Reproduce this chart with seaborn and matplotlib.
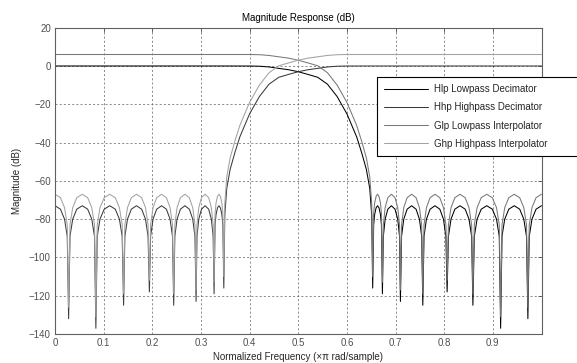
import numpy as np
import pandas as pd
import matplotlib
matplotlib.use("Agg")
import matplotlib.pyplot as plt
import seaborn as sns

# ---------------- data ----------------
freq_lp = [0.0, 0.30, 0.38, 0.40, 0.42, 0.44, 0.46, 0.48, 0.50, 0.52, 0.54, 0.56, 0.58, 0.60,
           0.62, 0.63, 0.64, 0.647, 0.651, 0.653,
           0.655, 0.657, 0.660, 0.663, 0.666, 0.669, 0.671, 0.673,
           0.6749, 0.6786, 0.6841, 0.6915, 0.6989, 0.7045, 0.7082, 0.710,
           0.7123, 0.7169, 0.7238, 0.733, 0.7422, 0.7491, 0.7537, 0.756,
           0.7585, 0.7635, 0.771, 0.781, 0.791, 0.7985, 0.8035, 0.806,
           0.8087, 0.814, 0.8219, 0.8325, 0.8431, 0.851, 0.8564, 0.859,
           0.8619, 0.8676, 0.8761, 0.8875, 0.8989, 0.9075, 0.9132, 0.916,
           0.9188, 0.9244, 0.9328, 0.944, 0.9552, 0.9636, 0.9692, 0.972,
           0.9748, 0.9804, 0.9888, 1.0]

hlp_db = [0.0, 0.0, -0.01, -0.02, -0.12, -0.5, -1.25, -1.95, -3.0, -4.4, -5.9, -9.5, -16.0, -25.0,
          -37.0, -45.0, -54.0, -64.0, -78.0, -116.0,
          -83, -77.6, -74.1, -73, -74.1, -77.6, -83, -119,
          -89, -80, -74.8, -73, -74.8, -80, -89, -123,
          -89, -80, -74.8, -73, -74.8, -80, -89, -125,
          -89, -80, -74.8, -73, -74.8, -80, -89, -118,
          -89, -80, -74.8, -73, -74.8, -80, -89, -125,
          -89, -80, -74.8, -73, -74.8, -80, -89, -137,
          -89, -80, -74.8, -73, -74.8, -80, -89, -132,
          -89, -80, -74.8, -73]

glp_db = [6.0, 6.0, 6.0, 6.0, 5.9, 5.5, 4.8, 4.1, 3.0, 1.6, 0.1, -3.5, -10.0, -19.0,
          -31.0, -39.0, -48.0, -58.0, -72.0, -110.0,
          -77, -71.6, -68.1, -67, -68.1, -71.6, -77, -113,
          -83, -74, -68.8, -67, -68.8, -74, -83, -117,
          -83, -74, -68.8, -67, -68.8, -74, -83, -119,
          -83, -74, -68.8, -67, -68.8, -74, -83, -112,
          -83, -74, -68.8, -67, -68.8, -74, -83, -119,
          -83, -74, -68.8, -67, -68.8, -74, -83, -131,
          -83, -74, -68.8, -67, -68.8, -74, -83, -126,
          -83, -74, -68.8, -67]

freq_hp = [0.0, 0.0112, 0.0196, 0.0252, 0.028,
           0.0308, 0.0364, 0.0448, 0.056, 0.0672, 0.0756, 0.0812, 0.084,
           0.0868, 0.0925, 0.1011, 0.1125, 0.1239, 0.1324, 0.1381, 0.141,
           0.1436, 0.149, 0.1569, 0.1675, 0.1781, 0.186, 0.1913, 0.194,
           0.1965, 0.2015, 0.209, 0.219, 0.229, 0.2365, 0.2415, 0.244,
           0.2463, 0.2509, 0.2578, 0.267, 0.2762, 0.2831, 0.2877, 0.290,
           0.2918, 0.2955, 0.3011, 0.3085, 0.3159, 0.3214, 0.3251, 0.327,
           0.329, 0.331, 0.334, 0.337, 0.340, 0.343, 0.345, 0.347,
           0.349, 0.353, 0.36, 0.37, 0.38, 0.40, 0.42, 0.44, 0.46, 0.48, 0.50,
           0.52, 0.54, 0.56, 0.58, 0.60, 0.62, 0.70, 1.0]

hhp_db = [-73, -74.8, -80, -89, -132,
          -89, -80, -74.8, -73, -74.8, -80, -89, -137,
          -89, -80, -74.8, -73, -74.8, -80, -89, -125,
          -89, -80, -74.8, -73, -74.8, -80, -89, -118,
          -89, -80, -74.8, -73, -74.8, -80, -89, -125,
          -89, -80, -74.8, -73, -74.8, -80, -89, -123,
          -89, -80, -74.8, -73, -74.8, -80, -89, -119,
          -83, -77.6, -74.1, -73, -74.1, -77.6, -83, -116,
          -78.0, -64.0, -54.0, -45.0, -37.0, -25.0, -16.0, -9.5, -5.9, -4.4, -3.0,
          -1.95, -1.25, -0.5, -0.12, -0.02, -0.01, 0.0, 0.0]

ghp_db = [-67, -68.8, -74, -83, -126,
          -83, -74, -68.8, -67, -68.8, -74, -83, -131,
          -83, -74, -68.8, -67, -68.8, -74, -83, -119,
          -83, -74, -68.8, -67, -68.8, -74, -83, -112,
          -83, -74, -68.8, -67, -68.8, -74, -83, -119,
          -83, -74, -68.8, -67, -68.8, -74, -83, -117,
          -83, -74, -68.8, -67, -68.8, -74, -83, -113,
          -77, -71.6, -68.1, -67, -68.1, -71.6, -77, -110,
          -72.0, -58.0, -48.0, -39.0, -31.0, -19.0, -10.0, -3.5, 0.1, 1.6, 3.0,
          4.1, 4.8, 5.5, 5.9, 6.0, 6.0, 6.0, 6.0]

series_names = ["Hlp Lowpass Decimator", "Hhp Highpass Decimator",
                "Glp Lowpass Interpolator", "Ghp Highpass Interpolator"]
x_ticks = [0, 0.1, 0.2, 0.3, 0.4, 0.5, 0.6, 0.7, 0.8, 0.9]
x_tick_labels = ["0", "0.1", "0.2", "0.3", "0.4", "0.5", "0.6", "0.7", "0.8", "0.9"]
y_ticks = [-140, -120, -100, -80, -60, -40, -20, 0, 20]

# ---------------- style ----------------
sns.set_style("white")
plt.rcParams["font.family"] = ["Liberation Sans", "DejaVu Sans"]

colors = ["#000000", "#3a3a3a", "#787878", "#a2a2a2"]

fig = plt.figure(figsize=(5.77, 3.63), dpi=100)
ax = fig.add_axes([55 / 577, 1 - 334 / 363, (541.5 - 55) / 577, (334 - 27.7) / 363])

data = [(freq_lp, hlp_db), (freq_hp, hhp_db), (freq_lp, glp_db), (freq_hp, ghp_db)]
for (fx, fy), name, c in zip(data, series_names, colors):
    df = pd.DataFrame({"f": fx, "db": fy})
    sns.lineplot(data=df, x="f", y="db", ax=ax, color=c, linewidth=0.75,
                 estimator=None, sort=False, label=name)

ax.set_xlim(0, 1)
ax.set_ylim(-140, 20)
ax.set_xticks(x_ticks)
ax.set_xticklabels(x_tick_labels)
ax.set_yticks(y_ticks)
ax.tick_params(axis="both", direction="in", length=3, width=0.6, colors="#505050",
               labelsize=7, labelcolor="#505050", top=True, right=True, pad=3)
ax.grid(True, color="#606060", linestyle=(0, (3, 3)), linewidth=0.5)
for s in ax.spines.values():
    s.set_color("#606060")
    s.set_linewidth(0.8)

ax.set_title("Magnitude Response (dB)", fontsize=7, pad=5, color="#000000")
ax.set_xlabel("Normalized Frequency (\u00d7\u03c0 rad/sample)", fontsize=7, labelpad=3)
ax.set_ylabel("Magnitude (dB)", fontsize=7, labelpad=5)

leg = ax.legend(loc="upper left",
                bbox_to_anchor=(376.7 / 577, 1 - 154 / 363, 205 / 577, 77.3 / 363),
                bbox_transform=fig.transFigure, mode="expand", fontsize=7, frameon=True,
                fancybox=False, shadow=False, framealpha=1, edgecolor="#000000",
                handlelength=4.5, handletextpad=0.6, labelspacing=0.85,
                borderpad=0.75, borderaxespad=0)
leg.get_frame().set_linewidth(0.8)
for line in leg.get_lines():
    line.set_linewidth(0.75)

fig.savefig("out.png", dpi=100)
